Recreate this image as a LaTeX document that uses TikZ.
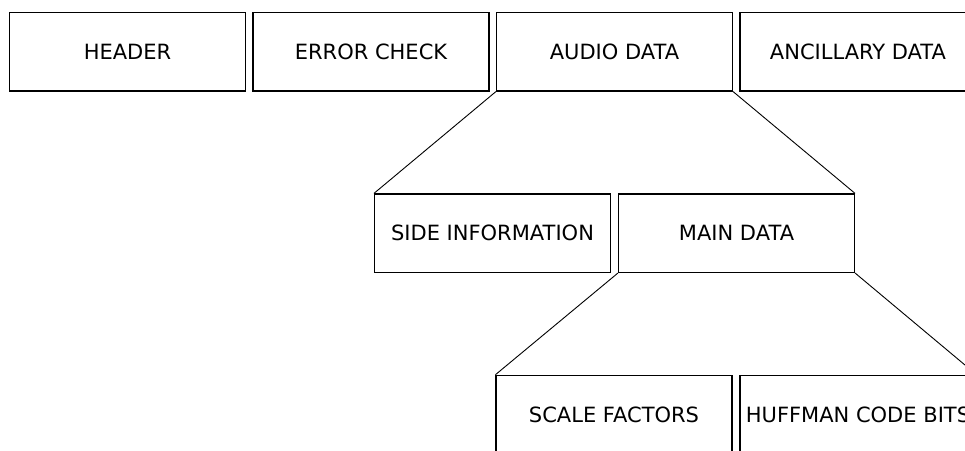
\documentclass[tikz,border=0pt]{standalone}
\usepackage{fontspec}
\setmainfont{DejaVu Sans}
\begin{document}
\begin{tikzpicture}[x=1pt,y=-1pt,
  blk/.style={draw=black, line width=1.1pt, minimum width=236pt, minimum height=78.5pt, inner sep=0pt, font=\fontsize{21pt}{25pt}\selectfont},
  conn/.style={draw=black, line width=0.9pt}]
\useasboundingbox (0,0) rectangle (965,450);
\clip (0,0) rectangle (965,450);
\node[blk] (header) at (127.5,51.75) {HEADER};
\node[blk] (error) at (371,51.75) {ERROR CHECK};
\node[blk] (audio) at (614.5,51.75) {AUDIO DATA};
\node[blk] (anc) at (858,51.75) {ANCILLARY DATA};
\node[blk] (side) at (492.5,233.2) {SIDE INFORMATION};
\node[blk] (main) at (736.5,233.2) {MAIN DATA};
\node[blk] (scale) at (614,414.5) {SCALE FACTORS};
\node[blk] (huff) at (858,414.5) {HUFFMAN CODE BITS};
\draw[conn] (audio.south west) -- (side.north west);
\draw[conn] (audio.south east) -- (main.north east);
\draw[conn] (main.south west) -- (scale.north west);
\draw[conn] (main.south east) -- (huff.north east);
\end{tikzpicture}
\end{document}
